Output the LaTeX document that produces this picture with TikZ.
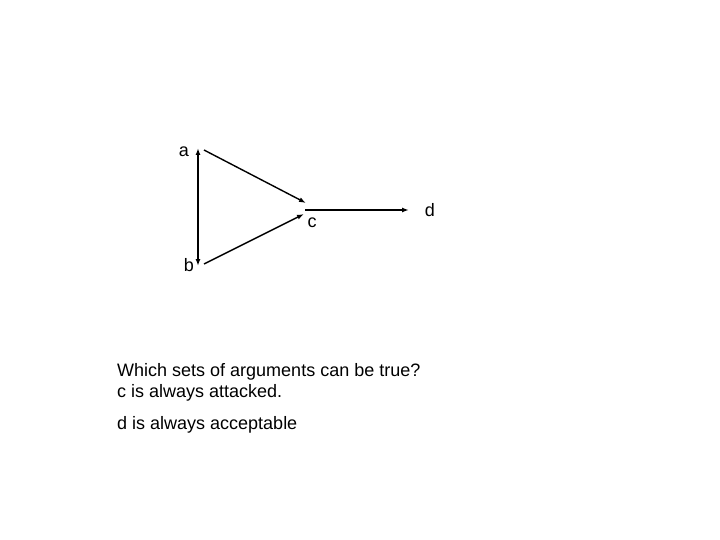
\documentclass[tikz,border=0pt]{standalone}
\usepackage{fontspec}
\setmainfont{Liberation Sans}
\usetikzlibrary{arrows.meta}
\begin{document}
\begin{tikzpicture}[x=1pt,y=-1pt,
  lbl/.style={font=\fontsize{18}{20}\selectfont, inner sep=0pt, anchor=base},
  txt/.style={font=\fontsize{18}{20}\selectfont, inner sep=0pt, anchor=base west},
  att/.style={line width=1.4pt, -{Latex[length=7pt,width=5pt]}},
  att2/.style={line width=1.4pt, {Latex[length=7pt,width=5pt]}-{Latex[length=7pt,width=5pt]}}]
\useasboundingbox (0,0) rectangle (720,540);
\node[lbl] (la) at (184,157) {a};
\node[lbl] (lb) at (189,271) {b};
\node[lbl] (lc) at (312,228) {c};
\node[lbl] (ld) at (430,216) {d};
\coordinate (a) at (198,148);
\coordinate (b) at (198,266);
\coordinate (aout) at (204,150);
\coordinate (bout) at (204,264);
\coordinate (cin1) at (306,203);
\coordinate (cin2) at (304,214);
\coordinate (cout) at (305,210);
\coordinate (din) at (409,210);
\draw[att2] (a) -- (b);
\draw[att] (aout) -- (cin1);
\draw[att] (bout) -- (cin2);
\draw[att] (cout) -- (din);
\node[txt] (t1) at (117,376) {Which sets of arguments can be true?};
\node[txt] (t2) at (117,397) {c is always attacked.};
\node[txt] (t3) at (117,429) {d is always acceptable};
\end{tikzpicture}
\end{document}
